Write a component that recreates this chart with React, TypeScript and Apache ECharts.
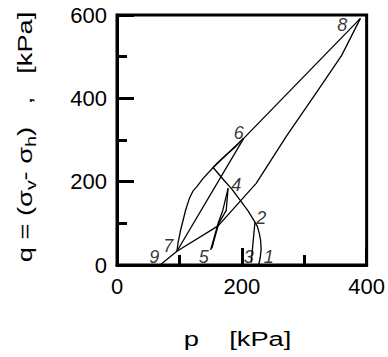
import React, { useEffect, useRef } from "react";
import * as echarts from "echarts";

// stress-path segments [p, q] in kPa
const path12 = [[227, 0], [229.5, 18], [231, 38], [230, 60], [228, 76], [225, 92], [221, 103]];
const path23 = [[221, 103], [215, 6]];
const path2K = [[221, 103], [210, 130], [196, 158], [184, 182], [171, 204], [154, 234]];
const pathK6a = [[154, 234], [203, 304]];
const pathK6b = [[154, 234], [163, 248], [176, 266], [190, 284], [203, 304]];
const path54 = [[150, 36], [162, 100], [169.5, 131], [178, 184]];
const path45 = [[178, 184], [175, 131], [163, 100], [152, 40]];
const path7K = [[96, 33], [98, 55], [102, 84], [110, 132], [116, 160], [122, 178], [128, 188], [138, 208], [154, 234]];
const path76 = [[96, 33], [203, 304]];
const path68 = [[203, 304], [390, 592]];
const path89 = [[390, 592], [360, 503], [320, 415], [271, 308], [223, 196], [162, 94], [96, 33], [69, 0]];

const pointNames = ["1", "2", "3", "4", "5", "6", "7", "8", "9"];
const pointLabelP = [243, 231, 211, 191, 139, 195, 82, 361, 59.5];
const pointLabelQ = [20, 112, 20, 192, 20, 318, 46, 576, 20];

const xTicks = [0, 200, 400];
const yTicks = [0, 200, 400, 600];

const xTitle = "p    [kPa]";
const yTitle = "{a|q = (σ}{s|v}{a|- σ}{s|h}{a|)   ,   [kPa]}";

const FONT = "'Liberation Sans', Arial, Helvetica, sans-serif";

export default function App() {
  const ref = useRef<HTMLDivElement>(null);
  useEffect(() => {
    if (!ref.current) return;
    const chart = echarts.init(ref.current, undefined, { renderer: "svg" });
    const paths = [path12, path23, path2K, pathK6a, pathK6b, path54, path45, path7K, path76, path68, path89];
    const lineSeries = paths.map((d) => ({
      type: "line" as const,
      data: d,
      showSymbol: false,
      symbol: "none",
      smooth: false,
      lineStyle: { color: "#000", width: 1.3 },
      silent: true,
    }));
    const axisCommon = {
      type: "value" as const,
      axisLine: { show: true, onZero: false, lineStyle: { color: "#000", width: 3 } },
      axisTick: { show: true, inside: true, length: 17, lineStyle: { color: "#000", width: 3 } },
      minorTick: { show: true, splitNumber: 2, length: 10, lineStyle: { color: "#000", width: 3 } },
      splitLine: { show: false },
      minorSplitLine: { show: false },
      axisLabel: { color: "#000", fontSize: 22, fontFamily: FONT, margin: 10 },
    };
    chart.setOption({
      animation: false,
      backgroundColor: "#fff",
      grid: { left: 117, right: 20, top: 15, bottom: 92, show: true, borderColor: "#000", borderWidth: 3, containLabel: false },
      xAxis: {
        ...axisCommon,
        min: xTicks[0],
        max: xTicks[xTicks.length - 1],
        interval: 200,
      },
      yAxis: {
        ...axisCommon,
        min: yTicks[0],
        max: yTicks[yTicks.length - 1],
        interval: 200,
      },
      graphic: [
        {
          type: "text",
          x: 237.5,
          y: 339,
          scaleX: 1.3,
          silent: true,
          style: {
            text: xTitle,
            fill: "#000",
            font: `21px ${FONT}`,
            align: "center",
            verticalAlign: "middle",
          },
        },
        {
          type: "text",
          x: 25,
          y: 137,
          rotation: Math.PI / 2,
          scaleX: 1.3,
          silent: true,
          style: {
            text: yTitle,
            fill: "#000",
            align: "center",
            verticalAlign: "middle",
            rich: {
              a: { fontSize: 21, fontFamily: FONT, fill: "#000", lineHeight: 26 },
              s: { fontSize: 15, fontFamily: FONT, fill: "#000", lineHeight: 14, verticalAlign: "bottom" },
            },
          },
        },
      ],
      series: [
        ...lineSeries,
        {
          type: "scatter",
          symbolSize: 0,
          silent: true,
          data: pointNames.map((n, i) => ({ name: n, value: [pointLabelP[i], pointLabelQ[i]] })),
          label: {
            show: true,
            position: "inside",
            formatter: (p: any) => p.name,
            color: "#000",
            fontSize: 18,
            fontStyle: "italic",
            fontFamily: FONT,
          },
        },
      ],
    });
    return () => chart.dispose();
  }, []);
  return <div ref={ref} style={{ width: 388, height: 357, position: "fixed", left: 0, top: 0 }} />;
}
